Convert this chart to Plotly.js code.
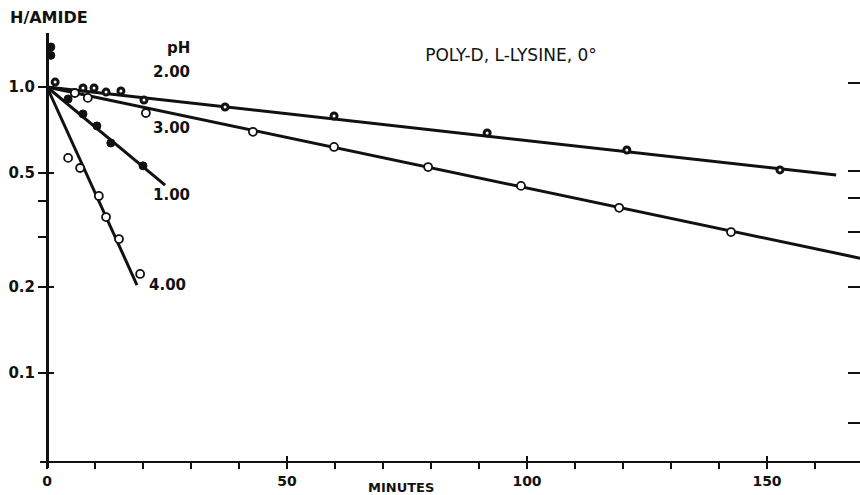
<!DOCTYPE html>
<html><head><meta charset="utf-8">
<script src="https://cdn.plot.ly/plotly-3.0.1.min.js"></script>
<style>html,body{margin:0;padding:0;background:#fff}#chart{width:860px;height:495px}</style>
</head><body><div id="chart"></div>
<script>
// ---- data ----
const ph1_x = [4.4, 7.5, 10.4, 13.3, 20.0];
const ph1_y = [0.908, 0.805, 0.731, 0.637, 0.530];
const ph2_x = [1.7, 7.5, 9.8, 12.3, 15.4, 20.2, 37.1, 59.8, 91.7, 120.8, 152.7];
const ph2_y = [1.04, 0.992, 0.992, 0.96, 0.968, 0.90, 0.851, 0.792, 0.691, 0.602, 0.513];
const ph3_x = [5.8, 8.5, 20.6, 42.9, 59.8, 79.4, 98.75, 119.2, 142.5];
const ph3_y = [0.953, 0.916, 0.811, 0.697, 0.617, 0.525, 0.451, 0.378, 0.311];
const ph4_x = [4.4, 6.9, 10.8, 12.3, 15.0, 19.4];
const ph4_y = [0.565, 0.521, 0.416, 0.351, 0.294, 0.222];
const init_x = [0.8, 0.8];
const init_y = [1.38, 1.29];

// fitted lines (end points)
const fit1_x = [0, 24.6],   fit1_y = [1.0, 0.454];
const fit2_x = [0, 164.4],  fit2_y = [1.0, 0.492];
const fit3_x = [0, 169.4],  fit3_y = [1.0, 0.252];
const fit4_x = [0, 18.75],  fit4_y = [1.0, 0.203];

// ticks and labels
const xTickVals = [0, 10, 20, 30, 40, 50, 60, 70, 80, 90, 100, 110, 120, 130, 140, 150, 160];
const xTickText = ['0', '', '', '', '', '50', '', '', '', '', '100', '', '', '', '', '150', ''];
const xCrossTicks = [50, 100, 150];
const yTickVals = [0.1, 0.2, 0.3, 0.4, 0.5, 1.0];
const yTickText = ['0.1', '0.2', '', '', '0.5', '1.0'];
const yCrossTicks = [0.1, 0.2, 0.5, 1.0];
const yRightTicks = [1.03, 0.51, 0.41, 0.31, 0.2, 0.1, 0.067];
const seriesLabels = ['pH', '2.00', '3.00', '1.00', '4.00'];
const seriesLabelX = [27.3, 26.0, 26.0, 26.0, 25.2];
const seriesLabelY = [1.369, 1.128, 0.719, 0.419, 0.203];

const INK = '#111';
const FONT = 'DejaVu Sans';

const lineStyle = {color: INK, width: 3};
const traces = [
  {x: fit1_x, y: fit1_y, mode: 'lines', line: lineStyle, hoverinfo: 'skip'},
  {x: fit2_x, y: fit2_y, mode: 'lines', line: lineStyle, hoverinfo: 'skip'},
  {x: fit3_x, y: fit3_y, mode: 'lines', line: lineStyle, hoverinfo: 'skip'},
  {x: fit4_x, y: fit4_y, mode: 'lines', line: lineStyle, hoverinfo: 'skip'},
  {x: ph1_x, y: ph1_y, mode: 'markers', name: 'pH 1.00',
   marker: {symbol: 'circle', size: 8, color: INK, line: {color: INK, width: 1}}},
  {x: ph2_x, y: ph2_y, mode: 'markers', name: 'pH 2.00',
   marker: {symbol: 'circle', size: 6, color: '#fff', line: {color: INK, width: 3}}},
  {x: ph3_x, y: ph3_y, mode: 'markers', name: 'pH 3.00',
   marker: {symbol: 'circle', size: 8, color: '#fff', line: {color: INK, width: 1.8}}},
  {x: ph4_x, y: ph4_y, mode: 'markers', name: 'pH 4.00',
   marker: {symbol: 'circle', size: 8, color: '#fff', line: {color: INK, width: 1.8}}},
  {x: init_x, y: init_y, mode: 'markers', name: 'initial', cliponaxis: false,
   marker: {symbol: 'circle', size: 8, color: INK, line: {color: INK, width: 1}}},
  // empty traces so the extra tick-only axes are drawn
  {x: [], y: [], xaxis: 'x', yaxis: 'y2', mode: 'markers', hoverinfo: 'skip'},
  {x: [], y: [], xaxis: 'x', yaxis: 'y3', mode: 'markers', hoverinfo: 'skip'},
  {x: [], y: [], xaxis: 'x2', yaxis: 'y', mode: 'markers', hoverinfo: 'skip'}
];

const annotations = [
  {text: 'H/AMIDE', xref: 'paper', yref: 'paper', x: -0.039, y: 1.0345,
   xanchor: 'left', yanchor: 'middle', showarrow: false,
   font: {family: FONT, size: 16, weight: 'bold', color: INK}},
  {text: 'MINUTES', xref: 'paper', yref: 'paper', x: 0.440, y: -0.0437,
   xanchor: 'center', yanchor: 'middle', showarrow: false,
   font: {family: FONT, size: 13, weight: 'bold', color: INK}}
];
seriesLabels.forEach((t, i) => {
  annotations.push({text: t, xref: 'x', yref: 'y', x: seriesLabelX[i], y: Math.log10(seriesLabelY[i]),
    xanchor: 'center', yanchor: 'middle', showarrow: false,
    font: {family: FONT, size: 15, weight: 'bold', color: INK}});
});

const yRange = [-1.3322, 0.1888];
const xRange = [-1.458, 169.375];

const layout = {
  width: 860, height: 495,
  margin: {l: 40, r: 0, t: 33, b: 27, pad: 0},
  paper_bgcolor: '#fff', plot_bgcolor: '#fff',
  showlegend: false,
  font: {family: FONT, color: INK},
  title: {text: 'POLY-D, L-LYSINE, 0°', x: 511 / 860, y: 1 - 55 / 495,
          xanchor: 'center', yanchor: 'middle',
          font: {family: FONT, size: 17, color: INK}},
  xaxis: {range: xRange, domain: [0, 1], anchor: 'free', position: 0.0138,
          tickmode: 'array', tickvals: xTickVals, ticktext: xTickText,
          ticks: 'outside', ticklen: 6, tickwidth: 2, tickcolor: INK,
          showline: true, linewidth: 2.5, linecolor: INK,
          showgrid: false, zeroline: false,
          tickfont: {family: FONT, size: 14, weight: 'bold', color: INK}},
  xaxis2: {range: xRange, overlaying: 'x', anchor: 'free', position: 0.0138, side: 'bottom',
           tickmode: 'array', tickvals: xCrossTicks, ticks: 'inside', ticklen: 6, tickwidth: 2,
           tickcolor: INK, showticklabels: false, showline: false, showgrid: false, zeroline: false},
  yaxis: {type: 'log', range: yRange, domain: [0, 1], anchor: 'free', position: 0.00854,
          tickmode: 'array', tickvals: yTickVals, ticktext: yTickText,
          ticks: 'outside', ticklen: 8, tickwidth: 2, tickcolor: INK,
          showline: true, linewidth: 2.5, linecolor: INK,
          showgrid: false, zeroline: false,
          tickfont: {family: FONT, size: 15, weight: 'bold', color: INK}},
  yaxis2: {type: 'log', range: yRange, overlaying: 'y', side: 'right', anchor: 'x',
           tickmode: 'array', tickvals: yRightTicks, ticks: 'inside', ticklen: 12, tickwidth: 2,
           tickcolor: INK, showticklabels: false, showline: false, showgrid: false, zeroline: false},
  yaxis3: {type: 'log', range: yRange, overlaying: 'y', anchor: 'free', position: 0.00854, side: 'left',
           tickmode: 'array', tickvals: yCrossTicks, ticks: 'inside', ticklen: 6, tickwidth: 2,
           tickcolor: INK, showticklabels: false, showline: false, showgrid: false, zeroline: false},
  annotations: annotations
};

Plotly.newPlot('chart', traces, layout, {displayModeBar: false, staticPlot: true});
</script>
</body></html>
